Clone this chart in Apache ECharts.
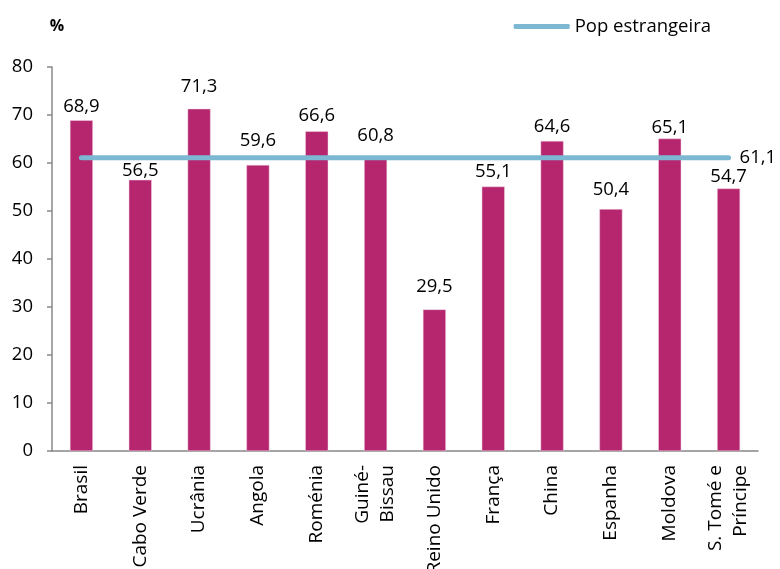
<!DOCTYPE html>
<html>
<head>
<meta charset="utf-8">
<script src="https://cdn.jsdelivr.net/npm/echarts@6/dist/echarts.min.js"></script>
<style>
  html, body { margin: 0; padding: 0; background: #fff; }
  #chart { width: 780px; height: 569px; }
</style>
</head>
<body>
<div id="chart"></div>
<script>
const categories = ['Brasil', 'Cabo Verde', 'Ucrânia', 'Angola', 'Roménia', 'Guiné-\nBissau',
  'Reino Unido', 'França', 'China', 'Espanha', 'Moldova', 'S. Tomé e\nPríncipe']
const countryValues = [68.9, 56.5, 71.3, 59.6, 66.6, 60.8, 29.5, 55.1, 64.6, 50.4, 65.1, 54.7]
const popEstrangeira = categories.map(() => 61.1)
const yTicks = [0, 10, 20, 30, 40, 50, 60, 70, 80]
// label gap above each bar (labels were nudged by hand in the original)
const labelGap = [4, 0, 13, 15, 6, 14, 13, 5, 5, 10, 1, 2]

const font = '"Open Sans", "Noto Sans", sans-serif'
const fs = 18.5
const fmt = v => String(v).replace('.', ',')

const chart = echarts.init(document.getElementById('chart'))
chart.setOption({
  animation: false,
  textStyle: { fontFamily: font },
  grid: { left: 52, right: 22, top: 67, bottom: 118, containLabel: false, outerBoundsMode: 'none' },
  legend: {
    right: 69, top: 17, padding: 0,
    data: ['Pop estrangeira'],
    itemWidth: 56, itemHeight: 5, itemGap: 2,
    icon: 'roundRect',
    textStyle: { fontSize: fs, color: '#000', fontFamily: font }
  },
  xAxis: {
    type: 'category',
    data: categories,
    axisLine: { lineStyle: { color: '#888', width: 1.5 } },
    axisTick: { alignWithLabel: false, length: 5, lineStyle: { color: '#888', width: 1.5 } },
    axisLabel: { rotate: 90, interval: 0, fontSize: 19, color: '#000', lineHeight: 25, margin: 14 }
  },
  yAxis: {
    type: 'value',
    min: 0, max: 80, interval: 10,
    name: '%',
    nameLocation: 'end',
    nameGap: 33,
    nameTextStyle: { fontWeight: 'bold', fontSize: 16, color: '#000', align: 'center', padding: [0, 0, 0, 10] },
    axisLine: { show: true, lineStyle: { color: '#888', width: 1.5 } },
    axisTick: { show: true, length: 5, lineStyle: { color: '#888', width: 1.5 } },
    splitLine: { show: false },
    axisLabel: { fontSize: fs, color: '#000', margin: 19,
      formatter: v => yTicks.includes(v) ? String(v) : '' }
  },
  series: [
    {
      name: 'Pop',
      type: 'bar',
      data: countryValues.map((v, i) => ({ value: v, label: { distance: labelGap[i] } })),
      barWidth: 23,
      itemStyle: { color: '#B5266F', borderColor: '#f3d3e2', borderWidth: 0.5 },
      label: { show: true, position: 'top', fontSize: fs, color: '#000', formatter: p => fmt(p.value) },
      z: 2
    },
    {
      name: 'Pop estrangeira',
      type: 'line',
      data: popEstrangeira,
      symbol: 'none',
      lineStyle: { color: '#7DB8D3', width: 5, cap: 'round' },
      itemStyle: { color: '#7DB8D3' },
      endLabel: { show: true, distance: 11, fontSize: fs, color: '#000', formatter: p => fmt(p.value) },
      z: 3
    }
  ]
})
</script>
</body>
</html>
